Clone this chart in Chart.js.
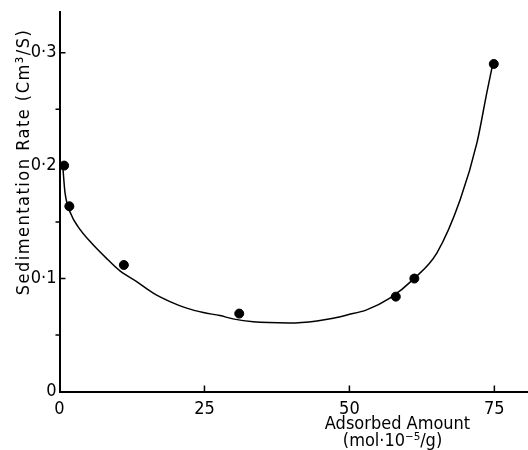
<!DOCTYPE html>
<html>
<head>
<meta charset="utf-8">
<script src="https://cdn.jsdelivr.net/npm/chart.js@4"></script>
<style>
  body{margin:0;background:#fff;}
  #wrap{width:528px;height:450px;position:relative;}
</style>
</head>
<body>
<div id="wrap"><canvas id="chart"></canvas></div>
<script>
// measured points
const adsorbed = [0.8, 1.7, 11.1, 31.0, 58.0, 61.2, 74.9];
const rate = [0.200, 0.164, 0.112, 0.069, 0.084, 0.100, 0.290];

// fitted curve
const curveX = [0.6, 0.95, 2.03, 3.19, 5.48, 8.36, 10.43, 13.31, 16.17, 19.05, 21.93, 24.8, 27.67, 29.9, 33.4, 39.7, 44.4, 47.2, 49.6, 52.97, 56.98, 61.1, 65.1, 69.1, 72.0, 73.7, 74.7];
const curveY = [0.197, 0.176, 0.1565, 0.146, 0.1316, 0.1166, 0.1068, 0.0973, 0.0871, 0.0796, 0.0738, 0.0699, 0.0672, 0.0643, 0.0617, 0.0607, 0.0625, 0.0649, 0.0678, 0.0723, 0.0826, 0.0997, 0.1228, 0.1697, 0.2203, 0.2646, 0.2894];

// ticks
const xTicks = [0, 25, 50, 75];
const yTicks = [0, 0.1, 0.2, 0.3];
const yTickLabels = ['0', '0·1', '0·2', '0·3'];
const yMinor = [0.05, 0.15, 0.25];

const FONT = '"DejaVu Sans Condensed", "DejaVu Sans", sans-serif';

const toXY = (xs, ys) => xs.map((x, i) => ({x, y: ys[i]}));

// tick marks + titles drawn by hand
const decor = {
  id: 'decor',
  afterDraw(chart){
    const {ctx, scales:{x, y}} = chart;
    const x0 = x.getPixelForValue(0), y0 = y.getPixelForValue(0);
    ctx.save();
    ctx.strokeStyle = '#000';
    ctx.lineWidth = 1.5;
    ctx.beginPath();
    yTicks.slice(1).forEach(v => { const p = y.getPixelForValue(v); ctx.moveTo(x0, p); ctx.lineTo(x0 + 6, p); });
    yMinor.forEach(v => { const p = y.getPixelForValue(v); ctx.moveTo(x0, p); ctx.lineTo(x0 - 4, p); });
    xTicks.slice(1).forEach(v => { const p = x.getPixelForValue(v); ctx.moveTo(p, y0); ctx.lineTo(p, y0 - 6); });
    ctx.stroke();

    ctx.fillStyle = '#000';
    ctx.font = '18px ' + FONT;
    ctx.textAlign = 'center';
    ctx.textBaseline = 'middle';
    const cx = x.getPixelForValue(58.3);
    ctx.fillText('Adsorbed Amount', cx, 424);
    ctx.fillText('(mol·10⁻⁵/g)', cx - 5, 441);

    ctx.translate(24, 162);
    ctx.rotate(-Math.PI / 2);
    ctx.letterSpacing = '1.5px';
    ctx.fillText('Sedimentation Rate (Cm³/S)', 0, 0);
    ctx.restore();
  }
};

new Chart(document.getElementById('chart'), {
  type: 'scatter',
  data: {
    datasets: [
      {
        data: toXY(curveX, curveY),
        showLine: true,
        borderColor: '#000',
        borderWidth: 1.5,
        pointRadius: 0,
        cubicInterpolationMode: 'monotone'
      },
      {
        data: toXY(adsorbed, rate),
        backgroundColor: '#000',
        borderColor: '#000',
        pointRadius: 4.5,
        pointHoverRadius: 4.5
      }
    ]
  },
  options: {
    responsive: true,
    maintainAspectRatio: false,
    animation: false,
    layout: {autoPadding: false, padding: {top: 12, right: 0, left: 0, bottom: 0}},
    plugins: {legend: {display: false}, tooltip: {enabled: false}},
    scales: {
      x: {
        type: 'linear', min: 0, max: 80.8,
        grid: {display: false, drawTicks: false},
        border: {display: true, color: '#000', width: 2},
        afterBuildTicks: s => { s.ticks = xTicks.map(v => ({value: v})); },
        afterFit: s => { s.height = 58.5; s.paddingLeft = 0; s.paddingRight = 0; },
        ticks: {color: '#000', padding: 7, maxRotation: 0, font: {size: 18, family: FONT}}
      },
      y: {
        type: 'linear', min: 0, max: 0.336,
        grid: {display: false, drawTicks: false},
        border: {display: true, color: '#000', width: 2},
        afterBuildTicks: s => { s.ticks = yTicks.map(v => ({value: v})); },
        afterFit: s => { s.width = 59.5; s.paddingTop = 0; s.paddingBottom = 0; },
        ticks: {color: '#000', padding: 3, font: {size: 18, family: FONT},
          callback: (v) => yTickLabels[yTicks.indexOf(v)] ?? ''}
      }
    }
  },
  plugins: [decor]
});
</script>
</body>
</html>
